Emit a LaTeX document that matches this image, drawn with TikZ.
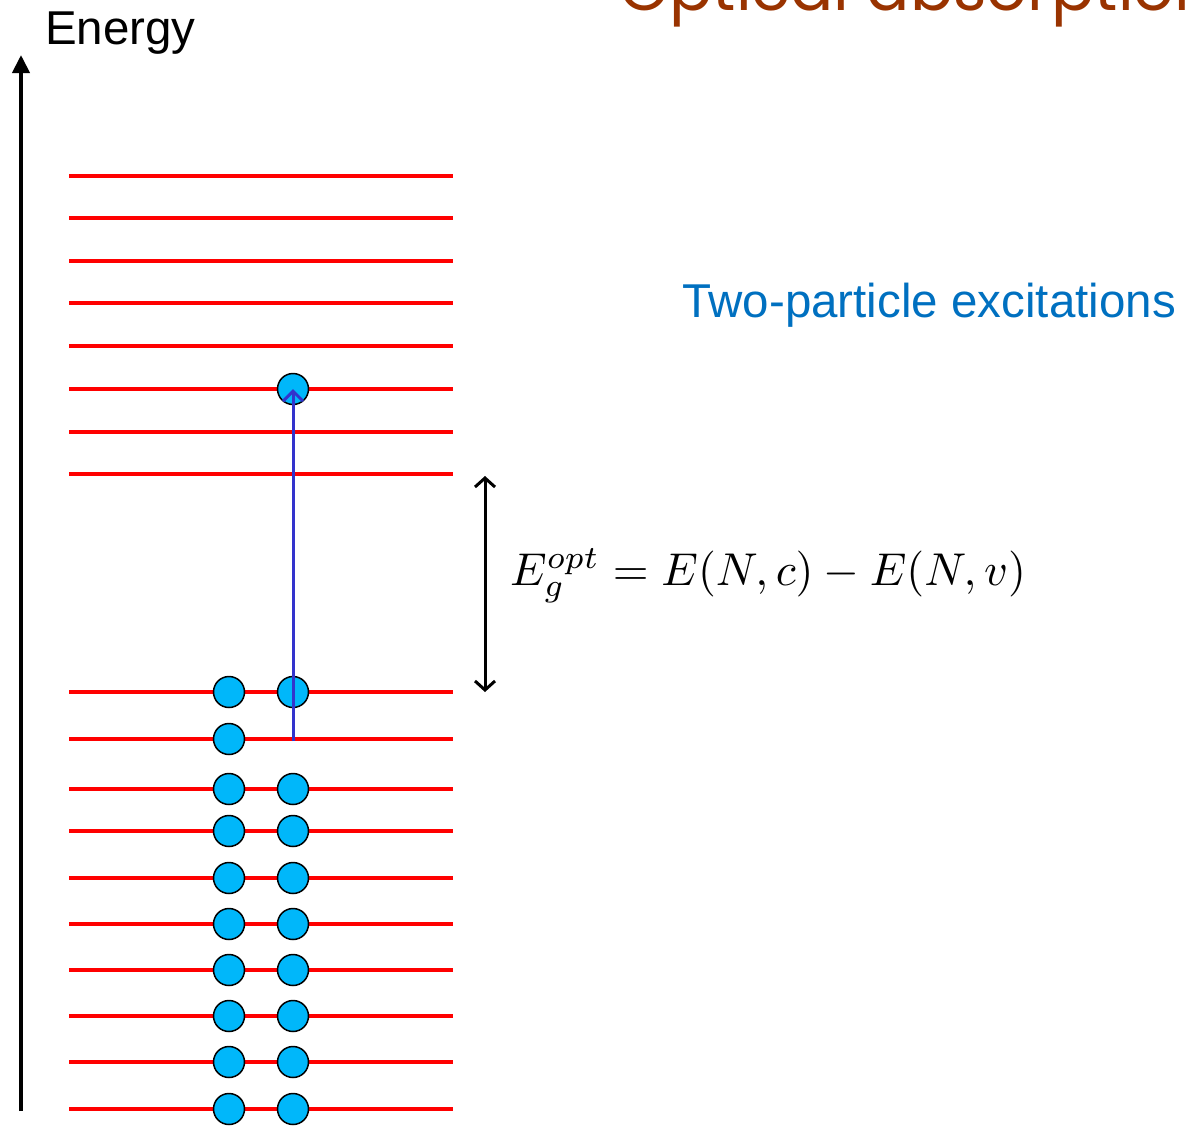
\documentclass[tikz,border=0pt]{standalone}
\usepackage{fontspec}
\setmainfont{Liberation Sans}
\newfontfamily\titlefont{Poppins}
\usetikzlibrary{arrows.meta}
\definecolor{lvl}{RGB}{255,0,0}
\definecolor{elec}{RGB}{0,183,250}
\definecolor{exc}{RGB}{51,51,204}
\definecolor{tblue}{RGB}{0,112,192}
\definecolor{tbrown}{RGB}{153,51,0}
\begin{document}
\begin{tikzpicture}[x=1pt,y=-1pt,
  level/.style={draw=lvl,line width=4.3pt},
  electron/.style={circle,draw=black,line width=1.5pt,fill=elec,minimum size=31pt,inner sep=0pt},
  bigtext/.style={anchor=base west,inner sep=0pt,font=\fontsize{47.5}{56}\selectfont}]
\useasboundingbox (0,0) rectangle (1186,1127);
\begin{scope}
\clip (0,0) rectangle (1186,1127);
\node[anchor=base west,inner sep=0pt,text=tbrown,font=\titlefont\fontsize{64}{76}\selectfont] (title) at (619,10) {Optical absorption};
\end{scope}
% energy axis
\coordinate (axbot) at (21,1111);
\coordinate (axtop) at (21,55);
\draw[line width=4pt,-{Triangle[length=18pt,width=17pt]}] (axbot) -- (axtop);
\node[bigtext] (energy) at (45,44) {Energy};
% levels
\foreach \y [count=\i] in {176,218,261,303,346,389,432,474,692,739,789,831,878,924,970,1016,1062,1109}
  \draw[level] (69,\y) -- (453,\y);
% electrons
\foreach \y [count=\i] in {692,789,831,878,924,970,1016,1062,1109}{
  \node[electron] (a\i) at (229,\y) {};
  \node[electron] (b\i) at (293,\y) {};
}
\node[electron] (a0) at (229,739) {};
\node[electron] (top) at (293,389) {};
\coordinate (start) at (293,741);
\draw[exc,line width=3pt,-{Straight Barb[length=10pt,width=20pt]}] (start) -- (top.center);
% gap arrow
\coordinate (gtop) at (485,476);
\coordinate (gbot) at (485,692);
\draw[line width=3pt,{Straight Barb[length=9pt,width=20pt]}-{Straight Barb[length=9pt,width=20pt]}] (gbot) -- (gtop);
\node[anchor=base west,inner sep=0pt] (eq) at (510,585) {\scalebox{4.6}{$E_g^{opt} = E(N,c) - E(N,v)$}};
\node[bigtext,text=tblue] (two) at (682,317) {Two-particle excitations};
\end{tikzpicture}
\end{document}
